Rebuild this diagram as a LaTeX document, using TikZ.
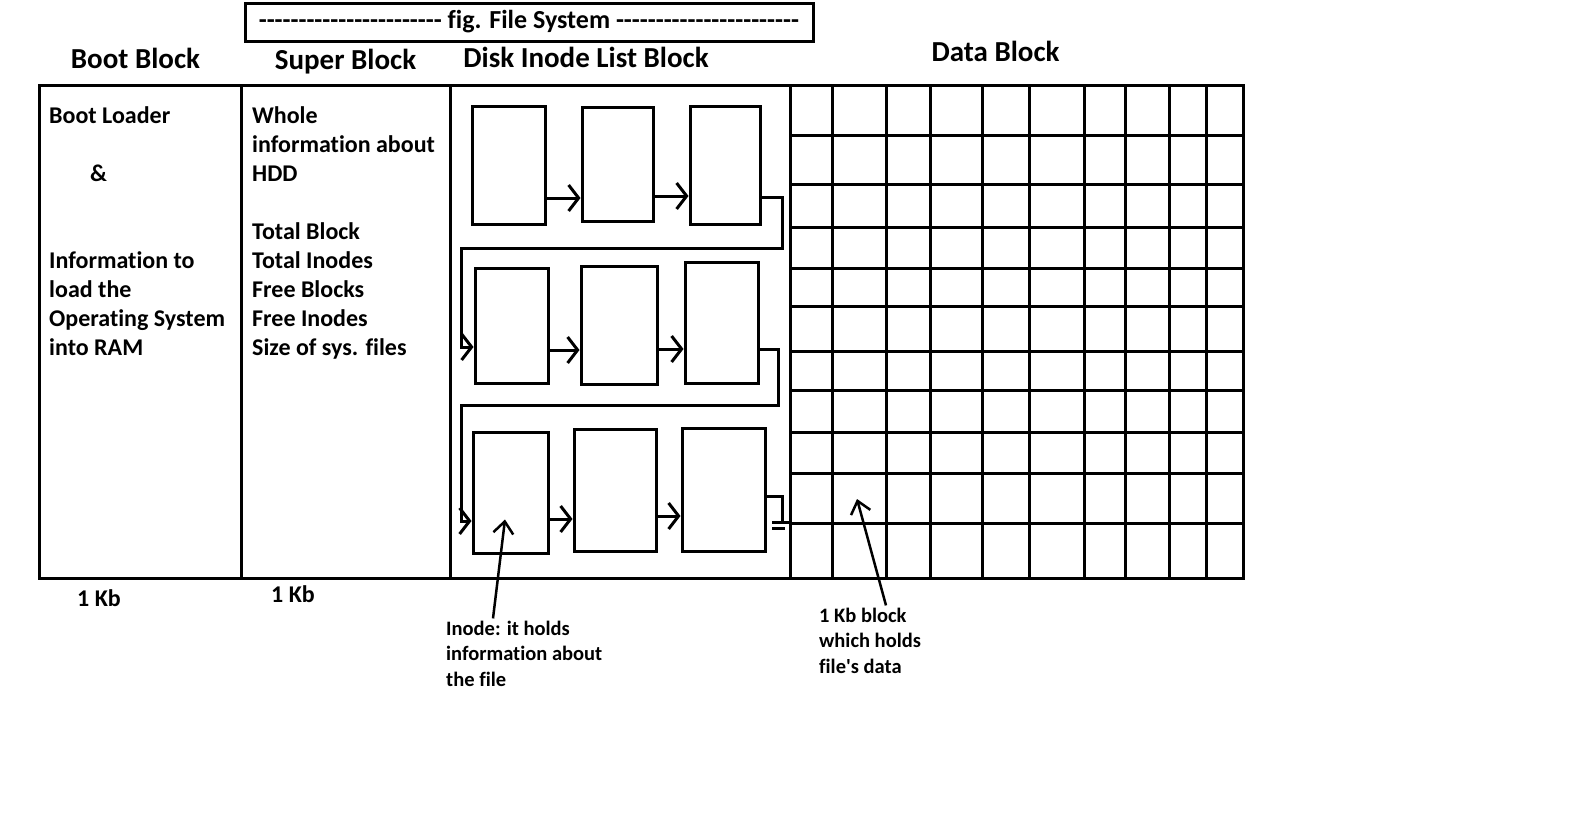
\documentclass[tikz,border=0pt]{standalone}
\usepackage{fontspec}
\setmainfont{Carlito}[Ligatures={TeXOff,NoCommon}]
\usetikzlibrary{arrows.meta,calc}
\newcommand\dashrun{-----------------------}
\tikzset{
  frm/.style={line width=3pt},
  ibox/.style={draw, line width=3pt, inner sep=0pt},
  lnk/.style={line width=3pt, -{Straight Barb[length=10pt, width=26pt]}},
  ptr/.style={line width=2.5pt, -{Straight Barb[length=12pt, width=20pt]}},
  hd/.style={font=\fontsize{29}{34}\selectfont\bfseries, inner sep=0pt, anchor=base},
  txt/.style={font=\fontsize{24}{29}\selectfont\bfseries, inner sep=0pt, align=left, anchor=base west},
  note/.style={font=\fontsize{20.5}{25.5}\selectfont\bfseries, inner sep=0pt, align=left, anchor=base west},
}
\begin{document}
\begin{tikzpicture}[x=1pt, y=-1pt]
\useasboundingbox (0,0) rectangle (1590,838);
% title and headings
\node[draw, frm, minimum width=568pt, minimum height=38pt, inner sep=0pt, font=\fontsize{26}{30}\selectfont\bfseries] (title) at (529,22) {\raisebox{2pt}{\dashrun{} fig. File System \dashrun}};
\node[hd] (boothd) at (135.5,68) {Boot Block};
\node[hd] (superhd) at (345.5,69) {Super Block};
\node[hd] (inodehd) at (586,67) {Disk Inode List Block};
\node[hd] (datahd) at (995.5,61) {Data Block};
% the four blocks
\draw[frm] (39,85) rectangle (1243,578);
\foreach \x in {241,450,790} \draw[frm] (\x,85) -- (\x,578);
% data block grid
\foreach \x in {832,886,930,982,1029,1084,1125,1169,1206} \draw[frm] (\x,85) -- (\x,578);
\foreach \y in {135,184,227,268,306,351,390,432,473,523} \draw[frm] (790,\y) -- (1243,\y);
% boot and super block text (base = last line)
\node[txt] (bootl) at (49,355) {Boot Loader\\ \\ \hspace*{41pt}\&\\ \\ \\ Information to\\ load the\\ Operating System\\ into RAM};
\node[txt] (superl) at (252,355) {Whole\\ information about\\ HDD\\ \\ Total Block\\ Total Inodes\\ Free Blocks\\ Free Inodes\\ Size of sys. files};
\node[txt] (bootkb) at (77,606) {1 Kb};
\node[txt] (superkb) at (271,602) {1 Kb};
% inode list
\foreach \n/\x/\y/\w/\h in {i11/508.5/165/73/118, i12/617.5/164/71/114, i13/725/165/70/118,
    i21/511.5/325.5/73/115, i22/619/325/76/118, i23/721.5/322.5/73/121,
    i31/510.5/492.5/75/121, i32/615/490/82/122, i33/723.5/489.5/83/123}
  \node[ibox, minimum width=\w pt, minimum height=\h pt] (\n) at (\x,\y) {};
\draw[lnk] (i11.east |- 0,198) -- (i12.west |- 0,198);
\draw[lnk] (i12.east |- 0,196) -- (i13.west |- 0,196);
\draw[lnk] (i13.east |- 0,197) -| (782,248) -| (461,347) -- (i21.west |- 0,347);
\draw[lnk] (i21.east |- 0,350) -- (i22.west |- 0,350);
\draw[lnk] (i22.east |- 0,349) -- (i23.west |- 0,349);
\draw[lnk] (i23.east |- 0,349) -| (778,405) -| (461,521) -- (i31.west |- 0,521);
\draw[lnk] (i31.east |- 0,519) -- (i32.west |- 0,519);
\draw[lnk] (i32.east |- 0,516) -- (i33.west |- 0,516);
\draw[frm] (i33.east |- 0,496) -| (782,522) coordinate (gnd);
\draw[frm] ([xshift=-10pt]gnd) -- ([xshift=8pt]gnd);
\draw[frm] ([xshift=-10pt,yshift=-6pt]gnd) -- ([xshift=3pt,yshift=-6pt]gnd);
% notes
\node[note] (inodenote) at (446,686) {Inode: it holds\\ information about\\ the file};
\node[note] (datanote) at (819,673) {1 Kb block\\ which holds\\ file's data};
\coordinate (cell) at (857,499);
\draw[ptr] ([xshift=47pt, yshift=2pt]inodenote.north west) -- ($(i31.south)+(-5.5,-35)$);
\draw[ptr] ([xshift=67pt, yshift=2pt]datanote.north west) -- (cell);
\end{tikzpicture}
\end{document}
